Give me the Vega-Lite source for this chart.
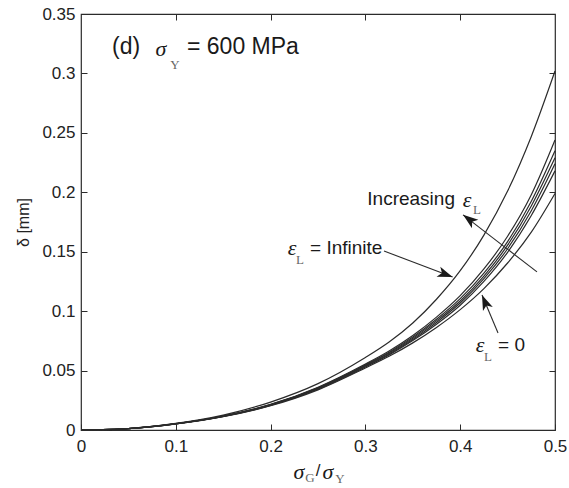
{
  "$schema": "https://vega.github.io/schema/vega-lite/v6.json",
  "autosize": {"type": "none"},
  "width": 474,
  "height": 416,
  "padding": {"left": 81, "top": 14, "right": 14, "bottom": 58},
  "background": "white",
  "config": {
    "font": "Liberation Sans",
    "view": {"stroke": "#2b2b2b", "strokeWidth": 1.2},
    "axis": {"grid": false, "domain": false, "labelFont": "Liberation Sans", "labelFontSize": 17, "labelColor": "#222", "tickColor": "#2b2b2b", "tickWidth": 1, "titleFont": "Liberation Sans"}
  },
  "datasets": {
    "curves": [
      {"x":0,"d":0,"c":"inf"},{"x":0.05,"d":0.0012,"c":"inf"},{"x":0.1,"d":0.0055,"c":"inf"},{"x":0.15,"d":0.0125,"c":"inf"},{"x":0.2,"d":0.0235,"c":"inf"},{"x":0.25,"d":0.039,"c":"inf"},{"x":0.3,"d":0.061,"c":"inf"},{"x":0.325,"d":0.074,"c":"inf"},{"x":0.35,"d":0.09,"c":"inf"},{"x":0.375,"d":0.11,"c":"inf"},{"x":0.4,"d":0.134,"c":"inf"},{"x":0.425,"d":0.164,"c":"inf"},{"x":0.45,"d":0.201,"c":"inf"},{"x":0.475,"d":0.247,"c":"inf"},{"x":0.5,"d":0.302,"c":"inf"},
      {"x":0,"d":0,"c":"a"},{"x":0.05,"d":0.0012,"c":"a"},{"x":0.1,"d":0.0053,"c":"a"},{"x":0.15,"d":0.0118,"c":"a"},{"x":0.2,"d":0.0215,"c":"a"},{"x":0.25,"d":0.036,"c":"a"},{"x":0.3,"d":0.0555,"c":"a"},{"x":0.325,"d":0.0665,"c":"a"},{"x":0.35,"d":0.0795,"c":"a"},{"x":0.375,"d":0.095,"c":"a"},{"x":0.4,"d":0.113,"c":"a"},{"x":0.425,"d":0.1355,"c":"a"},{"x":0.45,"d":0.163,"c":"a"},{"x":0.475,"d":0.198,"c":"a"},{"x":0.5,"d":0.244,"c":"a"},
      {"x":0,"d":0,"c":"b"},{"x":0.05,"d":0.0012,"c":"b"},{"x":0.1,"d":0.0053,"c":"b"},{"x":0.15,"d":0.0117,"c":"b"},{"x":0.2,"d":0.0213,"c":"b"},{"x":0.25,"d":0.0356,"c":"b"},{"x":0.3,"d":0.0548,"c":"b"},{"x":0.325,"d":0.0655,"c":"b"},{"x":0.35,"d":0.0782,"c":"b"},{"x":0.375,"d":0.0932,"c":"b"},{"x":0.4,"d":0.1105,"c":"b"},{"x":0.425,"d":0.132,"c":"b"},{"x":0.45,"d":0.1585,"c":"b"},{"x":0.475,"d":0.1925,"c":"b"},{"x":0.5,"d":0.235,"c":"b"},
      {"x":0,"d":0,"c":"c"},{"x":0.05,"d":0.0012,"c":"c"},{"x":0.1,"d":0.0052,"c":"c"},{"x":0.15,"d":0.0116,"c":"c"},{"x":0.2,"d":0.0211,"c":"c"},{"x":0.25,"d":0.0352,"c":"c"},{"x":0.3,"d":0.0542,"c":"c"},{"x":0.325,"d":0.0647,"c":"c"},{"x":0.35,"d":0.0772,"c":"c"},{"x":0.375,"d":0.0918,"c":"c"},{"x":0.4,"d":0.1085,"c":"c"},{"x":0.425,"d":0.1295,"c":"c"},{"x":0.45,"d":0.1555,"c":"c"},{"x":0.475,"d":0.1885,"c":"c"},{"x":0.5,"d":0.229,"c":"c"},
      {"x":0,"d":0,"c":"d"},{"x":0.05,"d":0.0012,"c":"d"},{"x":0.1,"d":0.0052,"c":"d"},{"x":0.15,"d":0.0115,"c":"d"},{"x":0.2,"d":0.0209,"c":"d"},{"x":0.25,"d":0.0348,"c":"d"},{"x":0.3,"d":0.0536,"c":"d"},{"x":0.325,"d":0.064,"c":"d"},{"x":0.35,"d":0.0762,"c":"d"},{"x":0.375,"d":0.0905,"c":"d"},{"x":0.4,"d":0.1068,"c":"d"},{"x":0.425,"d":0.1273,"c":"d"},{"x":0.45,"d":0.1525,"c":"d"},{"x":0.475,"d":0.1845,"c":"d"},{"x":0.5,"d":0.224,"c":"d"},
      {"x":0,"d":0,"c":"e"},{"x":0.05,"d":0.0012,"c":"e"},{"x":0.1,"d":0.0052,"c":"e"},{"x":0.15,"d":0.0114,"c":"e"},{"x":0.2,"d":0.0207,"c":"e"},{"x":0.25,"d":0.0344,"c":"e"},{"x":0.3,"d":0.053,"c":"e"},{"x":0.325,"d":0.0632,"c":"e"},{"x":0.35,"d":0.0752,"c":"e"},{"x":0.375,"d":0.089,"c":"e"},{"x":0.4,"d":0.105,"c":"e"},{"x":0.425,"d":0.125,"c":"e"},{"x":0.45,"d":0.1495,"c":"e"},{"x":0.475,"d":0.1805,"c":"e"},{"x":0.5,"d":0.218,"c":"e"},
      {"x":0,"d":0,"c":"f"},{"x":0.05,"d":0.0011,"c":"f"},{"x":0.1,"d":0.0051,"c":"f"},{"x":0.15,"d":0.0112,"c":"f"},{"x":0.2,"d":0.0204,"c":"f"},{"x":0.25,"d":0.0338,"c":"f"},{"x":0.3,"d":0.0522,"c":"f"},{"x":0.325,"d":0.0620,"c":"f"},{"x":0.35,"d":0.0733,"c":"f"},{"x":0.375,"d":0.0863,"c":"f"},{"x":0.4,"d":0.1013,"c":"f"},{"x":0.425,"d":0.119,"c":"f"},{"x":0.45,"d":0.1405,"c":"f"},{"x":0.475,"d":0.1665,"c":"f"},{"x":0.5,"d":0.199,"c":"f"}
    ],
    "arrows": [
      {"x1":0.481,"y1":0.133,"x2":0.403,"y2":0.181},
      {"x1":0.3196,"y1":0.1506,"x2":0.392,"y2":0.1287},
      {"x1":0.4399,"y1":0.0816,"x2":0.423,"y2":0.1136}
    ],
    "sansRight": [
      {"x":0.3945,"y":0.1944,"t":"Increasing"}
    ],
    "sansLeft": [
      {"x":0.2416,"y":0.1531,"t":"= Infinite"},
      {"x":0.4399,"y":0.0715,"t":"= 0"}
    ],
    "eps": [
      {"x":0.4072,"y":0.1935,"t":"ε"},
      {"x":0.2226,"y":0.1531,"t":"ε"},
      {"x":0.4209,"y":0.0715,"t":"ε"}
    ],
    "subs": [
      {"x":0.4177,"y":0.1851,"t":"L"},
      {"x":0.231,"y":0.143,"t":"L"},
      {"x":0.4293,"y":0.0614,"t":"L"},
      {"x":0.0992,"y":0.3071,"t":"Y"},
      {"x":0.2416,"y":-0.0408,"t":"G"},
      {"x":0.2732,"y":-0.0412,"t":"Y"}
    ],
    "title": [
      {"x":0.0327,"y":0.3222,"t":"(d)"},
      {"x":0.1118,"y":0.3222,"t":"= 600 MPa"}
    ],
    "sigma": [
      {"x":0.0844,"y":0.3205,"t":"σ"},
      {"x":0.23,"y":-0.0353,"t":"σ"},
      {"x":0.2605,"y":-0.0353,"t":"σ"}
    ],
    "slash": [
      {"x":0.25,"y":-0.0345,"t":"/"}
    ],
    "h1": [{"x":0.403,"y":0.181}],
    "h2": [{"x":0.392,"y":0.1287}],
    "h3": [{"x":0.423,"y":0.1136}]
  },
  "layer": [
    {
      "data": {"name": "curves"},
      "mark": {"type": "line", "interpolate": "monotone", "color": "#2b2b2b", "strokeWidth": 1.2},
      "encoding": {
        "x": {"field": "x", "type": "quantitative", "scale": {"domain": [0, 0.5], "nice": false, "zero": false},
              "axis": {"orient": "bottom", "values": [0, 0.1, 0.2, 0.3, 0.4, 0.5], "format": "~g", "tickSize": -6, "labelPadding": 14, "title": null, "labelFlush": false}},
        "y": {"field": "d", "type": "quantitative", "scale": {"domain": [0, 0.35], "nice": false, "zero": false},
              "axis": {"orient": "left", "values": [0, 0.05, 0.1, 0.15, 0.2, 0.25, 0.3, 0.35], "format": "~g", "tickSize": -6, "labelPadding": 12, "title": "δ [mm]", "titleFontSize": 16, "titleFontWeight": "normal", "titleColor": "#222", "titlePadding": 10, "labelFlush": false}},
        "detail": {"field": "c"}
      }
    },
    {
      "data": {"name": "arrows"},
      "mark": {"type": "rule", "color": "#2b2b2b", "strokeWidth": 1.1},
      "encoding": {
        "x": {"field": "x1", "type": "quantitative", "axis": {"orient": "top", "values": [0.1, 0.2, 0.3, 0.4], "labels": false, "tickSize": -6, "title": null}},
        "y": {"field": "y1", "type": "quantitative", "axis": {"orient": "right", "values": [0.05, 0.1, 0.15, 0.2, 0.25, 0.3], "labels": false, "tickSize": -6, "title": null}},
        "x2": {"field": "x2"},
        "y2": {"field": "y2"}
      }
    },
    {
      "data": {"name": "h1"},
      "mark": {"type": "point", "filled": true, "shape": "M0,0 L0.7,2 L0,1.5 L-0.7,2 Z", "size": 230, "angle": 307, "color": "#1a1a1a", "opacity": 1},
      "encoding": {"x": {"field": "x", "type": "quantitative", "axis": null}, "y": {"field": "y", "type": "quantitative", "axis": null}}
    },
    {
      "data": {"name": "h2"},
      "mark": {"type": "point", "filled": true, "shape": "M0,0 L0.7,2 L0,1.5 L-0.7,2 Z", "size": 230, "angle": 110.7, "color": "#1a1a1a", "opacity": 1},
      "encoding": {"x": {"field": "x", "type": "quantitative", "axis": null}, "y": {"field": "y", "type": "quantitative", "axis": null}}
    },
    {
      "data": {"name": "h3"},
      "mark": {"type": "point", "filled": true, "shape": "M0,0 L0.7,2 L0,1.5 L-0.7,2 Z", "size": 230, "angle": 337.2, "color": "#1a1a1a", "opacity": 1},
      "encoding": {"x": {"field": "x", "type": "quantitative", "axis": null}, "y": {"field": "y", "type": "quantitative", "axis": null}}
    },
    {
      "data": {"name": "sansRight"},
      "mark": {"type": "text", "font": "Liberation Sans", "fontSize": 19, "baseline": "middle", "align": "right", "color": "#1a1a1a"},
      "encoding": {"x": {"field": "x", "type": "quantitative", "axis": null}, "y": {"field": "y", "type": "quantitative", "axis": null}, "text": {"field": "t"}}
    },
    {
      "data": {"name": "sansLeft"},
      "mark": {"type": "text", "font": "Liberation Sans", "fontSize": 19, "baseline": "middle", "align": "left", "color": "#1a1a1a"},
      "encoding": {"x": {"field": "x", "type": "quantitative", "axis": null}, "y": {"field": "y", "type": "quantitative", "axis": null}, "text": {"field": "t"}}
    },
    {
      "data": {"name": "eps"},
      "mark": {"type": "text", "font": "Liberation Serif", "fontStyle": "italic", "fontSize": 22, "baseline": "middle", "align": "center", "color": "#1a1a1a"},
      "encoding": {"x": {"field": "x", "type": "quantitative", "axis": null}, "y": {"field": "y", "type": "quantitative", "axis": null}, "text": {"field": "t"}}
    },
    {
      "data": {"name": "subs"},
      "mark": {"type": "text", "font": "Liberation Serif", "fontSize": 13, "baseline": "middle", "align": "center", "color": "#666"},
      "encoding": {"x": {"field": "x", "type": "quantitative", "axis": null}, "y": {"field": "y", "type": "quantitative", "axis": null}, "text": {"field": "t"}}
    },
    {
      "data": {"name": "title"},
      "mark": {"type": "text", "font": "Liberation Sans", "fontSize": 23, "baseline": "middle", "align": "left", "color": "#1a1a1a"},
      "encoding": {"x": {"field": "x", "type": "quantitative", "axis": null}, "y": {"field": "y", "type": "quantitative", "axis": null}, "text": {"field": "t"}}
    },
    {
      "data": {"name": "sigma"},
      "mark": {"type": "text", "font": "Liberation Serif", "fontStyle": "italic", "fontSize": 22, "baseline": "middle", "align": "center", "color": "#1a1a1a"},
      "encoding": {"x": {"field": "x", "type": "quantitative", "axis": null}, "y": {"field": "y", "type": "quantitative", "axis": null}, "text": {"field": "t"}}
    },
    {
      "data": {"name": "slash"},
      "mark": {"type": "text", "font": "Liberation Sans", "fontSize": 17, "baseline": "middle", "align": "center", "color": "#1a1a1a"},
      "encoding": {"x": {"field": "x", "type": "quantitative", "axis": null}, "y": {"field": "y", "type": "quantitative", "axis": null}, "text": {"field": "t"}}
    }
  ]
}
